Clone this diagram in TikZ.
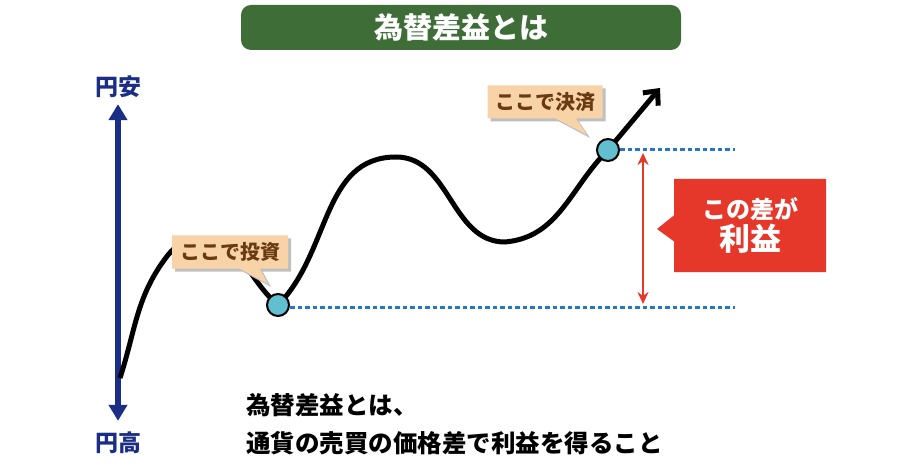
\documentclass[tikz,border=0pt]{standalone}
\usepackage{fontspec}
\setmainfont{Noto Sans CJK JP}
\usetikzlibrary{positioning,arrows.meta,shapes.callouts,shadows}

\definecolor{headgreen}{HTML}{3E6D38}
\definecolor{yennavy}{HTML}{1B2E86}
\definecolor{memopeach}{HTML}{F8D3A8}
\definecolor{memobrown}{HTML}{6A3A12}
\definecolor{dotcyan}{HTML}{62BFD0}
\definecolor{levelblue}{HTML}{2378C6}
\definecolor{profitred}{HTML}{E5372A}

\begin{document}
\begin{tikzpicture}[
		x=1pt, y=1pt,
		headline/.style = {fill=headgreen, rounded corners=10pt, text=white,
			minimum width=440pt, minimum height=45pt,
			font=\fontsize{29}{29}\selectfont\bfseries},
		axislabel/.style = {text=yennavy, inner sep=0pt, font=\fontsize{23}{23}\selectfont\bfseries},
		yenaxis/.style = {yennavy, line width=6pt, {Triangle[length=16pt,width=18pt]}-{Triangle[length=16pt,width=18pt]}},
		price/.style = {line width=5pt, -{Straight Barb[length=11pt,width=20pt]}},
		pricedot/.style = {draw, circle, fill=dotcyan, line width=2pt, minimum size=22pt, inner sep=0pt},
		pricelevel/.style = {levelblue, line width=3pt, dash pattern=on 4.5pt off 3pt},
		gap/.style = {profitred, line width=2pt, {Stealth[length=12pt,width=11pt]}-{Stealth[length=12pt,width=11pt]}},
		memo/.style = {rectangle callout, fill=memopeach, text=memobrown, inner sep=0pt,
			minimum height=33pt, callout pointer width=20pt,
			font=\fontsize{20}{20}\selectfont\bfseries,
			drop shadow={shadow xshift=3pt, shadow yshift=-3pt, fill=black!25, opacity=1}},
		profit/.style = {rectangle callout, fill=profitred, text=white, align=center,
			minimum width=152pt, minimum height=93pt, callout pointer width=26pt},
		note/.style = {anchor=west, inner sep=0pt, font=\fontsize{24.5}{24.5}\selectfont\bfseries}
	]
	\useasboundingbox (0,0) rectangle (920,-470);
	\node[headline] (head) at (461,-27.5) {為替差益とは};

	% Yen axis.
	\node[axislabel] (weak) at (118,-87) {円安};
	\node[axislabel] (strong) at (118,-443) {円高};
	\draw[yenaxis, shorten <=6pt, shorten >=11pt] (weak) -- (strong);

	% Price path.
	\coordinate (start) at (120,-378);
	\coordinate (rise) at (168,-255);
	\coordinate (hill) at (202,-240);
	\coordinate (buypt) at (278,-305);
	\coordinate (peak) at (396,-157);
	\coordinate (trough) at (505,-242);
	\coordinate (sellpt) at (608,-150);
	\coordinate (tip) at (660,-88);
	\draw[price] (start) to[out=72,in=232] (rise) to[out=52,in=180] (hill)
		to[out=0,in=140] (buypt)
		to[out=45,in=180] (peak) to[out=0,in=180] (trough)
		to[out=5,in=225] (sellpt) -- (tip);

	\node[memo, minimum width=116pt, callout absolute pointer={(268,-284)}] (invest) at (230,-252) {ここで投資};
	\node[memo, minimum width=115pt, callout absolute pointer={(587,-135)}] (settle) at (545,-102) {ここで決済};

	% Levels and gap.
	\coordinate (lvlend) at (735,0);
	\draw[pricelevel] ([shift={(12,-2)}]buypt) -- ([yshift=-2pt]buypt -| lvlend);
	\draw[pricelevel] ([xshift=12pt]sellpt) -- (sellpt -| lvlend);
	\node[pricedot] (buy) at (buypt) {};
	\node[pricedot] (sell) at (sellpt) {};
	\coordinate (gapx) at (643,0);
	\draw[gap] ([yshift=-3pt]sell -| gapx) -- ([yshift=1pt]buy -| gapx);

	\node[profit, callout absolute pointer={(657,-229)}] (gain) at (750,-225.5)
		{{\fontsize{24}{30}\selectfont\bfseries この差が}\\[2pt]{\fontsize{31}{31}\selectfont\bfseries 利益}};

	\node[note] (line1) at (246,-405) {為替差益とは、};
	\node[note] (line2) at (246,-443) {通貨の売買の価格差で利益を得ること};
\end{tikzpicture}
\end{document}
